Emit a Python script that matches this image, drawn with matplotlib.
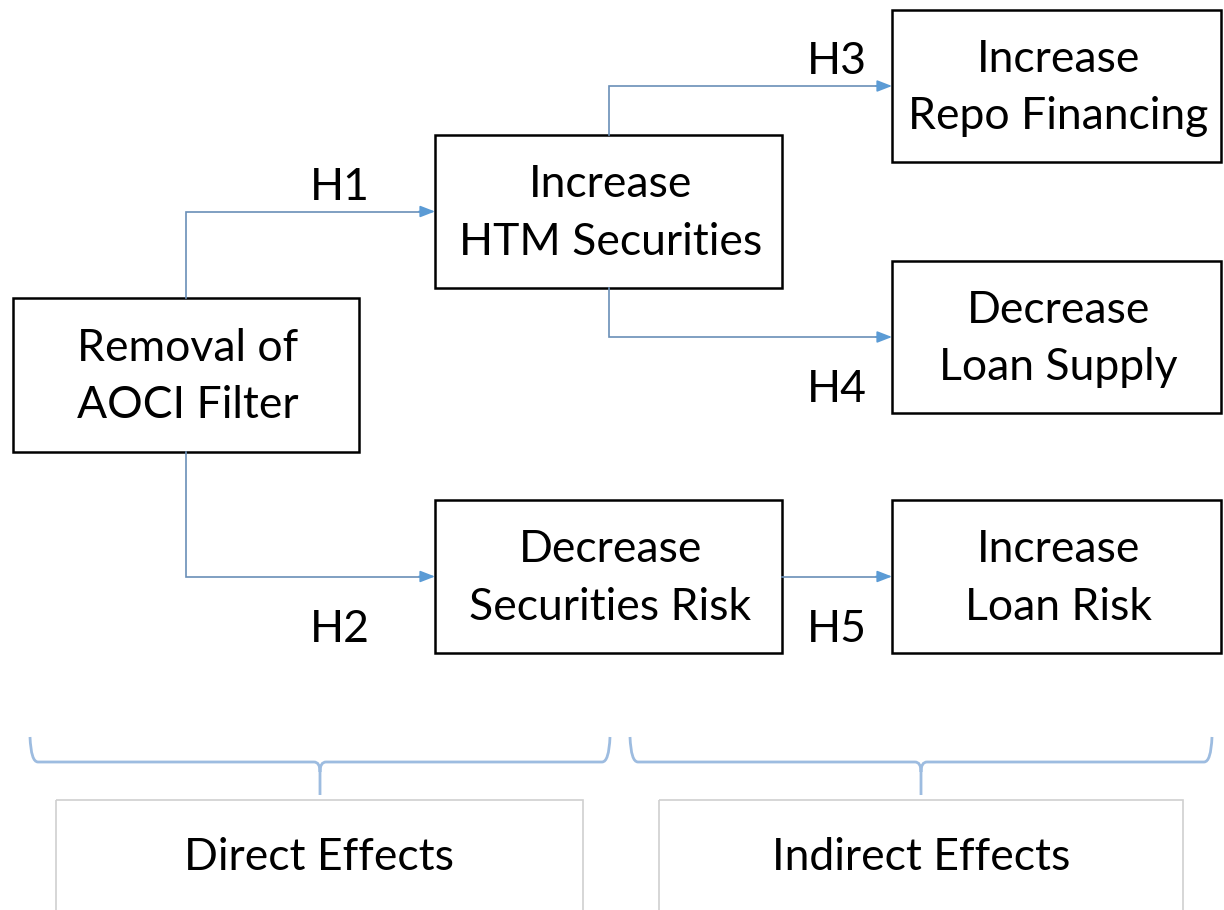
import matplotlib.pyplot as plt
from matplotlib.patches import Rectangle, PathPatch
from matplotlib.path import Path

# node texts
node_names = ['aoci', 'htm', 'repo', 'loan_supply', 'sec_risk', 'loan_risk']
node_texts = ['Removal of\nAOCI Filter', 'Increase\nHTM Securities', 'Increase\nRepo Financing',
              'Decrease\nLoan Supply', 'Decrease\nSecurities Risk', 'Increase\nLoan Risk']
# hypotheses (from, to, label)
hyp_from = ['aoci', 'aoci', 'htm', 'htm', 'sec_risk']
hyp_to = ['htm', 'sec_risk', 'repo', 'loan_supply', 'loan_risk']
hyp_labels = ['H1', 'H2', 'H3', 'H4', 'H5']
group_labels = ['Direct Effects', 'Indirect Effects']

# layout in pixels (x0, y0, x1, y1)
boxes = {
    'aoci': (13, 298, 359, 452),
    'htm': (435, 135, 782, 288),
    'repo': (892, 10, 1221, 162),
    'loan_supply': (892, 261, 1221, 413),
    'sec_risk': (435, 500, 782, 653),
    'loan_risk': (892, 500, 1221, 653),
}
label_pos = [(340, 188), (340, 630), (837, 62), (837, 390), (837, 630)]
group_boxes = [(56, 800, 583, 915), (659, 800, 1183, 915)]
braces = [(30, 610), (630, 1212)]

FONT = 'Lato'
FS = 32
ARROW = '#5B9BD5'
LINE = '#6A8FB8'
BRACE = '#9DBCE0'

fig = plt.figure(figsize=(12.24, 9.10), dpi=100)
ax = fig.add_axes([0, 0, 1, 1])
ax.set_xlim(0, 1224)
ax.set_ylim(910, 0)
ax.axis('off')

for name, txt in zip(node_names, node_texts):
    x0, y0, x1, y1 = boxes[name]
    ax.add_patch(Rectangle((x0, y0), x1 - x0, y1 - y0, fill=False, ec='black', lw=1.8))
    ax.text((x0 + x1) / 2 + 2, (y0 + y1) / 2 + 2, txt, ha='center', va='center',
            fontsize=FS, family=FONT, linespacing=1.5)


def connect(a, b):
    ax0, ay0, ax1, ay1 = boxes[a]
    bx0, by0, bx1, by1 = boxes[b]
    ty = (by0 + by1) / 2
    if ay0 <= ty <= ay1:
        pts = [(ax1, ty), (bx0, ty)]
    else:
        sx = (ax0 + ax1) / 2
        sy = ay0 if ty < ay0 else ay1
        pts = [(sx, sy), (sx, ty), (bx0, ty)]
    xs, ys = zip(*pts)
    ax.plot(xs[:-1] + (bx0 - 14,), ys, color=LINE, lw=1.2, solid_joinstyle='miter')
    ax.annotate('', xy=(bx0, ty), xytext=(bx0 - 16, ty),
                arrowprops=dict(arrowstyle='-|>,head_length=0.9,head_width=0.35',
                                color=ARROW, lw=1.2, shrinkA=0, shrinkB=0))


for a, b, lab, (lx, ly) in zip(hyp_from, hyp_to, hyp_labels, label_pos):
    connect(a, b)
    ax.text(lx, ly, lab, ha='center', va='center', fontsize=FS, family=FONT)

# curly braces under the boxes
top, mid, tip = 737, 762, 795
for (x0, x1) in braces:
    xm = (x0 + x1) / 2
    verts = [(x0, top), (x0 + 1, mid), (x0 + 8, mid),
             (xm - 6, mid),
             (xm, mid), (xm, mid + 10),
             (xm, tip), (xm, mid + 10),
             (xm, mid), (xm + 6, mid),
             (x1 - 8, mid),
             (x1 - 1, mid), (x1, top)]
    codes = [Path.MOVETO, Path.CURVE3, Path.CURVE3,
             Path.LINETO,
             Path.CURVE3, Path.CURVE3,
             Path.LINETO, Path.MOVETO,
             Path.CURVE3, Path.CURVE3,
             Path.LINETO,
             Path.CURVE3, Path.CURVE3]
    ax.add_patch(PathPatch(Path(verts, codes), fill=False, ec=BRACE, lw=2))

for (x0, y0, x1, y1), txt in zip(group_boxes, group_labels):
    ax.add_patch(Rectangle((x0, y0), x1 - x0, y1 - y0, fill=False, ec='#D0D0D0', lw=1.2))
    ax.text((x0 + x1) / 2, 857, txt, ha='center', va='center', fontsize=FS, family=FONT)

fig.savefig('out.png', dpi=100)
